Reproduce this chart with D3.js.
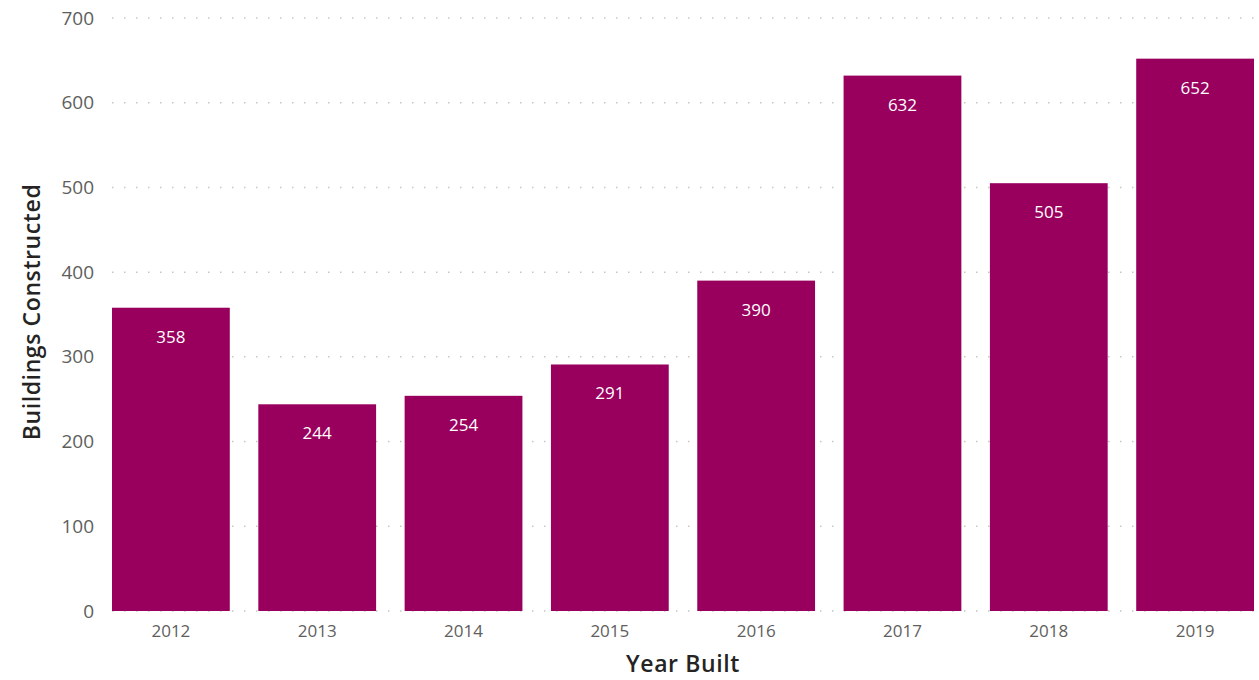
<!DOCTYPE html>
<html lang="en">
<head>
  <title>Buildings Constructed by Year</title>
  <script src="https://cdn.jsdelivr.net/npm/d3@7"></script>
  <style>
    body { margin: 0; background: #fff; }
    .tick text { font-family: "Open Sans", sans-serif; font-size: 17px; fill: #605e5c; }
    .y-axis .tick text { font-size: 19px; }
    .grid line { stroke: #c8c6c4; stroke-dasharray: 1.5 10.5; stroke-width: 1.5; }
    .title { font-family: "Open Sans", sans-serif; font-size: 23px; font-weight: 600; fill: #252423; letter-spacing: 0.6px; }
    .val { font-family: "Open Sans", sans-serif; font-size: 17px; fill: #fff; }
  </style>
</head>
<body>
  <div id="chart"></div>
  <script>
    var years = ["2012", "2013", "2014", "2015", "2016", "2017", "2018", "2019"];
    var buildings = [358, 244, 254, 291, 390, 632, 505, 652];
    var yTicks = [0, 100, 200, 300, 400, 500, 600, 700];

    var w = 1259, h = 680;

    var svg = d3.select("#chart").append("svg")
      .attr("width", w)
      .attr("height", h);

    var x = d3.scaleBand()
      .domain(years)
      .range([112, 1254])
      .paddingInner(0.195)
      .paddingOuter(0);

    var y = d3.scaleLinear()
      .domain([0, 700])
      .range([611, 18]);

    // dotted gridlines
    svg.append("g")
      .attr("class", "grid")
      .selectAll("line")
      .data(yTicks)
      .enter()
      .append("line")
      .attr("x1", 112)
      .attr("x2", 1254)
      .attr("y1", function(d) { return y(d); })
      .attr("y2", function(d) { return y(d); });

    // y axis labels
    var yAxis = svg.append("g")
      .attr("class", "y-axis")
      .attr("transform", "translate(94,0)")
      .call(d3.axisLeft(y).tickValues(yTicks).tickSize(0).tickPadding(0));
    yAxis.select(".domain").remove();

    // bars
    svg.selectAll(".bar")
      .data(years)
      .enter()
      .append("rect")
      .attr("class", "bar")
      .attr("x", function(d) { return x(d); })
      .attr("y", function(d, i) { return y(buildings[i]); })
      .attr("width", x.bandwidth())
      .attr("height", function(d, i) { return y(0) - y(buildings[i]); })
      .attr("fill", "#99005e");

    // value labels
    svg.selectAll(".val")
      .data(years)
      .enter()
      .append("text")
      .attr("class", "val")
      .attr("text-anchor", "middle")
      .attr("x", function(d) { return x(d) + x.bandwidth() / 2; })
      .attr("y", function(d, i) { return y(buildings[i]) + 35; })
      .text(function(d, i) { return buildings[i]; });

    // x axis labels
    var xAxis = svg.append("g")
      .attr("transform", "translate(0,620)")
      .call(d3.axisBottom(x).tickSize(0).tickPadding(5));
    xAxis.select(".domain").remove();

    // axis titles
    svg.append("text")
      .attr("class", "title")
      .attr("text-anchor", "middle")
      .attr("x", 683)
      .attr("y", 672)
      .text("Year Built");

    svg.append("text")
      .attr("class", "title")
      .attr("text-anchor", "middle")
      .attr("transform", "translate(40,312) rotate(-90)")
      .text("Buildings Constructed");
  </script>
</body>
</html>
